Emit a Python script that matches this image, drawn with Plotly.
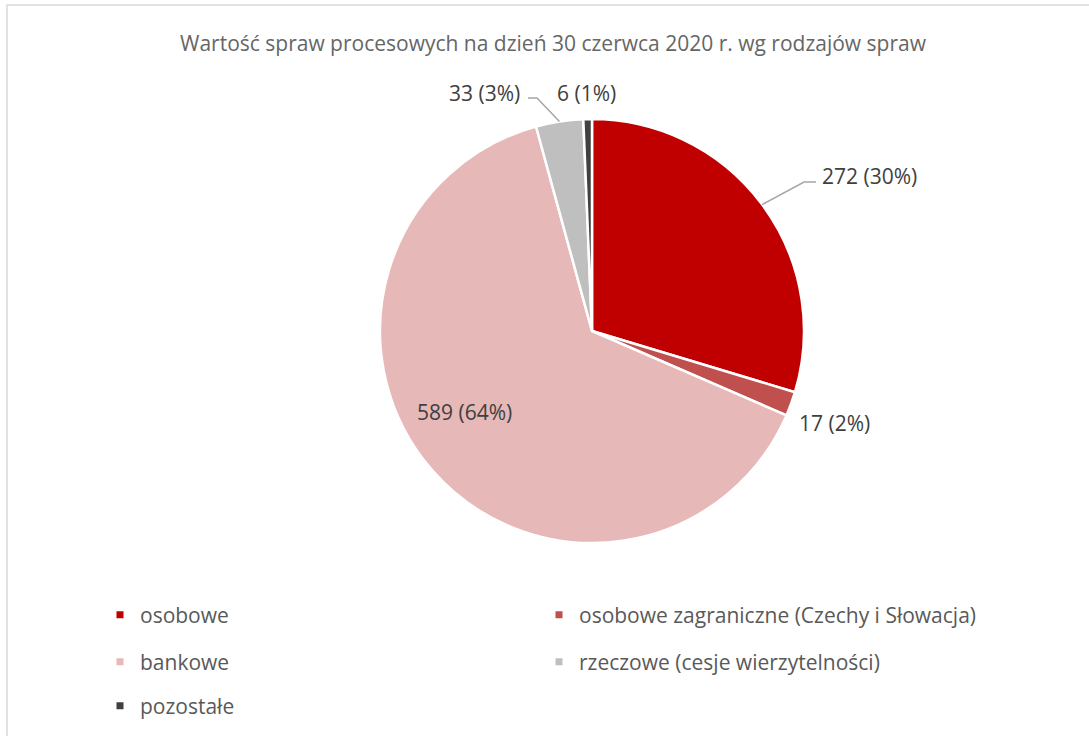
import math
import plotly.graph_objects as go

# dane
kategorie = ["osobowe", "osobowe zagraniczne (Czechy i Słowacja)", "bankowe",
             "rzeczowe (cesje wierzytelności)", "pozostałe"]
wartosci = [272, 17, 589, 33, 6]
procenty = [30, 2, 64, 3, 1]  # tak jak na oryginalnym wykresie
kolory = ["#C00000", "#C0504D", "#E6B8B7", "#BFBFBF", "#404040"]
tytul = "Wartość spraw procesowych na dzień 30 czerwca 2020 r. wg rodzajów spraw"

W, H = 1089, 736
cx, cy, r = 592, 331, 212


def px(x):
    return x / W


def py(y):
    return 1 - y / H


suma = sum(wartosci)
etykiety = [f"{v} ({p}%)" for v, p in zip(wartosci, procenty)]

# polozenie etykiet (srodek tekstu w pikselach) i linie odniesienia
pozycje_etykiet = [(869, 176), (834, 423), (464, 412), (484, 93), (586, 93)]
linie = {0: (816, 182, 804, 182), 3: (528, 98, 537, 98)}

fig = go.Figure()

fig.add_trace(go.Pie(
    labels=kategorie,
    values=wartosci,
    sort=False,
    direction="clockwise",
    rotation=0,
    marker=dict(colors=kolory, line=dict(color="white", width=2.5)),
    textinfo="none",
    hoverinfo="label+value+percent",
    showlegend=False,
    domain=dict(x=[px(cx - r), px(cx + r)], y=[py(cy + r), py(cy - r)]),
))

# legenda: trzy wiersze po dwie pozycje
legendy = ["legend", "legend", "legend2", "legend2", "legend3"]
for nazwa, kolor, leg in zip(kategorie, kolory, legendy):
    fig.add_trace(go.Scatter(
        x=[None], y=[None], mode="markers", name=nazwa,
        marker=dict(symbol="square", size=7, color=kolor),
        legend=leg,
    ))

# etykiety danych
kat = 0
for i, (v, tekst) in enumerate(zip(wartosci, etykiety)):
    srodek = (kat + v / 2) / suma * 2 * math.pi
    kat += v
    tx, ty = pozycje_etykiet[i]
    fig.add_annotation(x=px(tx), y=py(ty), xref="paper", yref="paper",
                       text=tekst, showarrow=False,
                       font=dict(size=21, color="#404040"),
                       xanchor="center", yanchor="middle")
    if i in linie:
        ex = cx + r * math.sin(srodek)
        ey = cy - r * math.cos(srodek)
        x0, y0, x1, y1 = linie[i]
        fig.add_shape(type="path", xref="paper", yref="paper",
                      path=f"M {px(x0)} {py(y0)} L {px(x1)} {py(y1)} L {px(ex)} {py(ey)}",
                      line=dict(color="#A6A6A6", width=1.5))

# ramka wykresu
fig.add_shape(type="rect", xref="paper", yref="paper",
              x0=px(7), y0=py(5), x1=1.2, y1=-0.2,
              line=dict(color="#D9D9D9", width=1.5), fillcolor="rgba(0,0,0,0)")

fig.add_annotation(x=px(553), y=py(43), xref="paper", yref="paper",
                   text=tytul, showarrow=False,
                   font=dict(size=21, color="#666666"),
                   xanchor="center", yanchor="middle")

leg_styl = dict(orientation="h", entrywidth=394, entrywidthmode="pixels",
                font=dict(size=21, color="#595959"), bgcolor="rgba(0,0,0,0)",
                xanchor="left", yanchor="middle", itemclick=False)
fig.update_layout(
    width=W, height=H,
    margin=dict(l=0, r=0, t=0, b=0),
    paper_bgcolor="white", plot_bgcolor="white",
    font=dict(family="Open Sans, sans-serif", color="#595959"),
    xaxis=dict(visible=False), yaxis=dict(visible=False),
    legend=dict(x=px(100), y=py(615), **leg_styl),
    legend2=dict(x=px(100), y=py(662), **leg_styl),
    legend3=dict(x=px(100), y=py(706), **leg_styl),
)

fig.write_html("out.html", config={"displayModeBar": False},
               post_script="document.body.style.margin='0';")
